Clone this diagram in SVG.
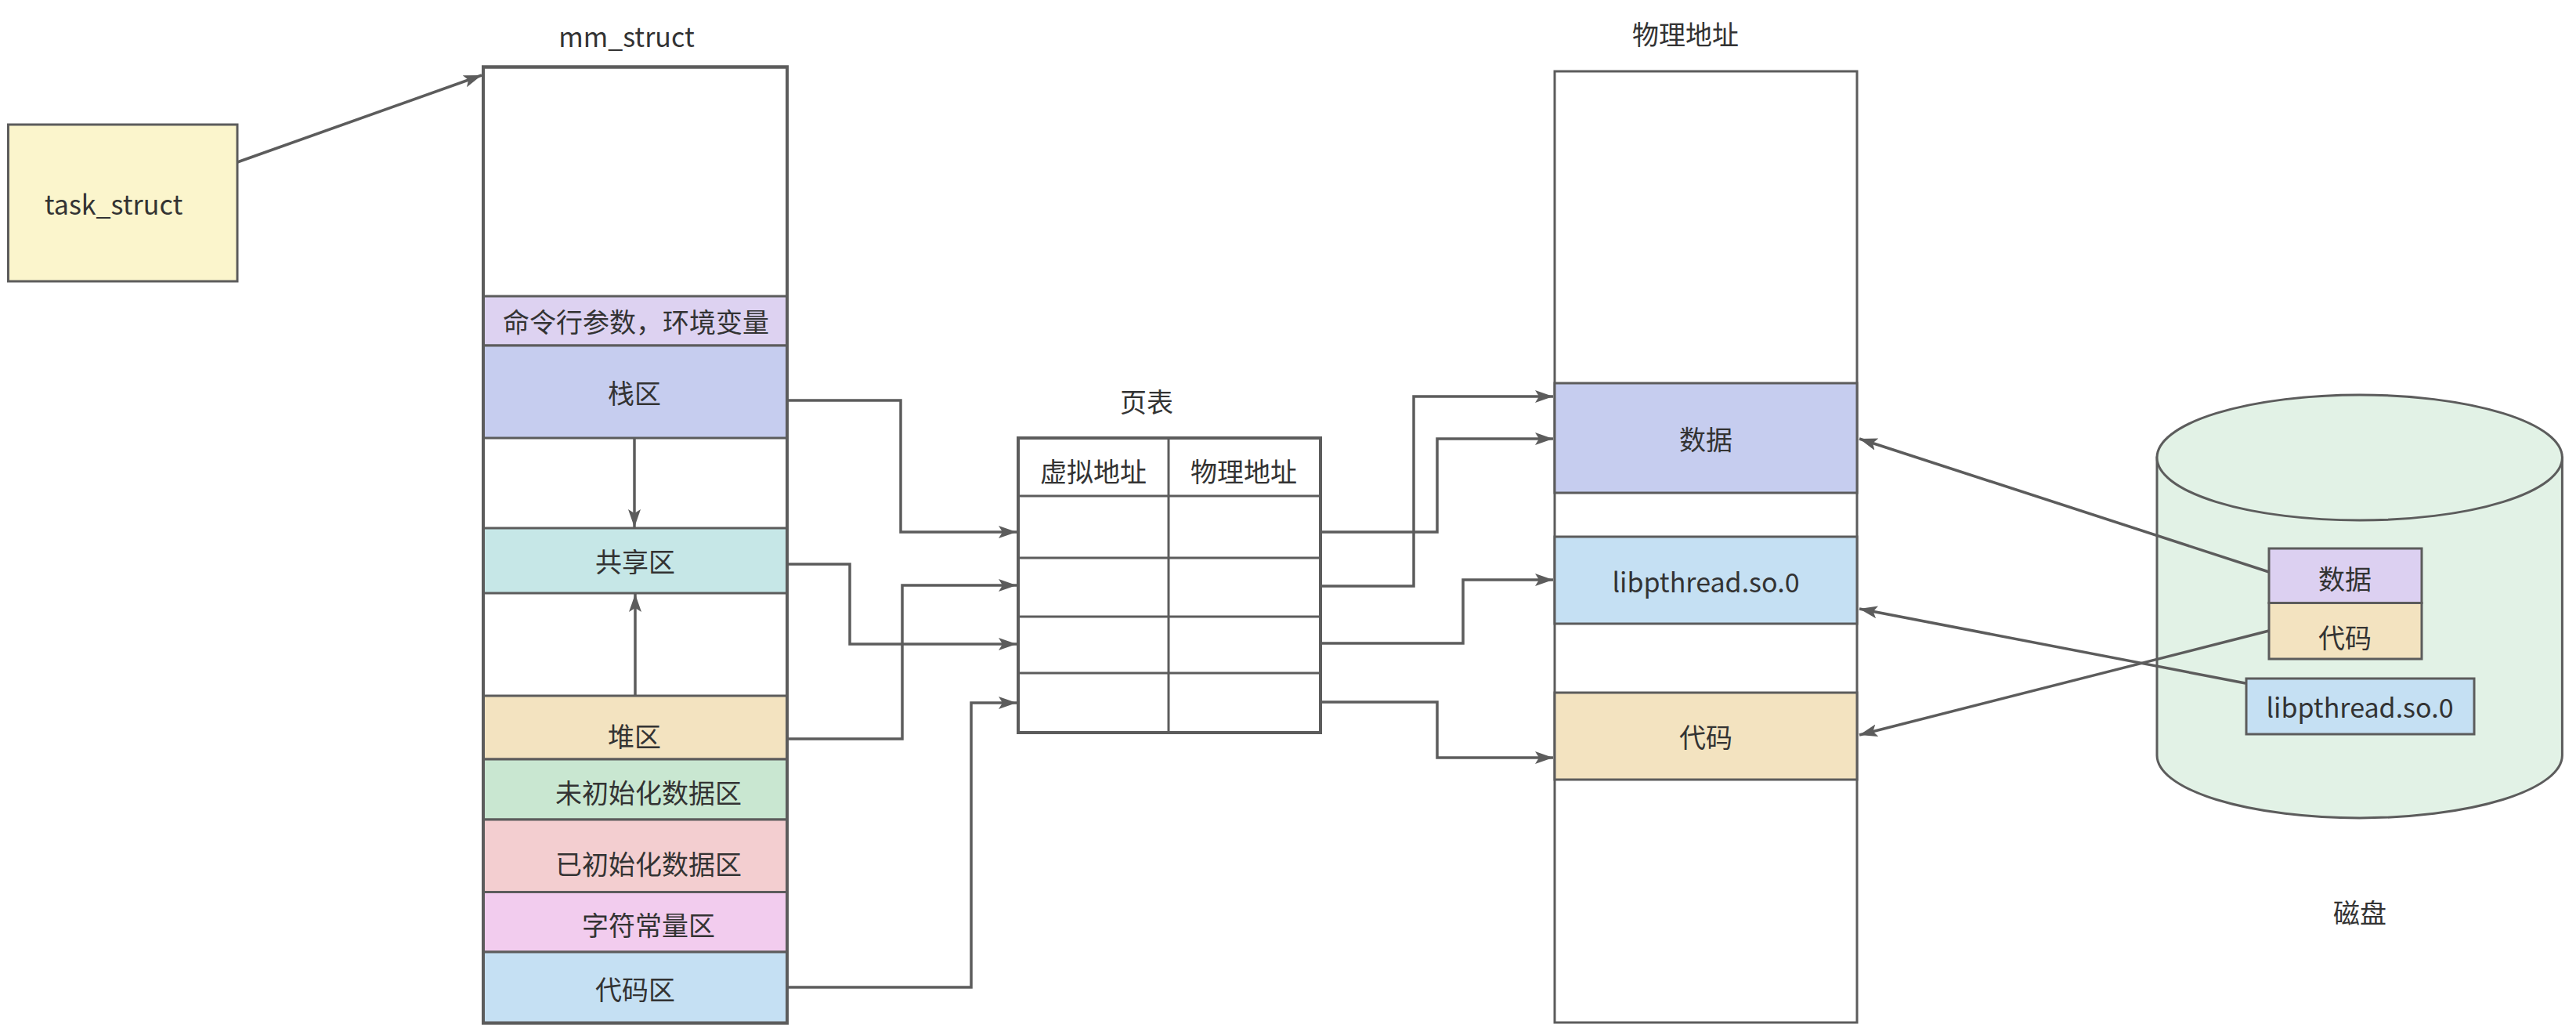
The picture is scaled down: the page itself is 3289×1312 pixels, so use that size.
<svg xmlns="http://www.w3.org/2000/svg" width="3289" height="1312" viewBox="0 0 3289 1312">
<style>
text{font-family:"Noto Sans CJK SC","Noto Sans",sans-serif;font-size:34px;fill:#333;text-anchor:middle;dominant-baseline:central}
.b{stroke:#5c5c5c;stroke-width:3}
.o{fill:none;stroke:#5c5c5c;stroke-width:4}
.c{fill:none;stroke:#5c5c5c;stroke-width:3.5;marker-end:url(#ah)}
</style>
<defs>
<marker id="ah" markerUnits="userSpaceOnUse" markerWidth="26" markerHeight="18" refX="23" refY="8" orient="auto">
<path d="M0,0 L23,8 L0,16 L5,8 Z" fill="#5c5c5c"/>
</marker>
</defs>
<rect width="3289" height="1312" fill="#fff"/>

<g id="task_struct">
<rect x="10.5" y="159" width="292.5" height="200" fill="#FBF5CC" class="b"/>
<text x="145" y="259">task_struct</text>
</g>

<g id="mm_struct">
<text x="800" y="45">mm_struct</text>
<rect x="617" y="85.5" width="388" height="1220" fill="#fff" class="o"/>
<rect x="617" y="378" width="388" height="63" fill="#DDD2F1" class="b"/>
<text x="812" y="409.5">命令行参数，环境变量</text>
<rect x="617" y="441" width="388" height="118" fill="#C6CDEF" class="b"/>
<text x="810" y="500">栈区</text>
<rect x="617" y="674" width="388" height="83" fill="#C6E7E7" class="b"/>
<text x="811" y="715">共享区</text>
<rect x="617" y="888" width="388" height="81" fill="#F3E3C0" class="b"/>
<text x="810" y="938">堆区</text>
<rect x="617" y="969" width="388" height="77" fill="#C9E7D1" class="b"/>
<text x="828" y="1010">未初始化数据区</text>
<rect x="617" y="1046" width="388" height="92.5" fill="#F3CED0" class="b"/>
<text x="828" y="1101">已初始化数据区</text>
<rect x="617" y="1138.5" width="388" height="76.5" fill="#F2CCEE" class="b"/>
<text x="828" y="1179">字符常量区</text>
<rect x="617" y="1215" width="388" height="90.5" fill="#C5E0F3" class="b"/>
<text x="811" y="1261">代码区</text>
<rect x="617" y="85.5" width="388" height="1220" fill="none" class="o"/>
</g>

<g id="page_table">
<text x="1464" y="511">页表</text>
<rect x="1300" y="559" width="386" height="376" fill="#fff" class="o"/>
<line x1="1492" y1="559" x2="1492" y2="937" class="b"/>
<line x1="1300" y1="633" x2="1686" y2="633" class="b"/>
<line x1="1300" y1="712" x2="1686" y2="712" class="b"/>
<line x1="1300" y1="787" x2="1686" y2="787" class="b"/>
<line x1="1300" y1="859" x2="1686" y2="859" class="b"/>
<text x="1396" y="600">虚拟地址</text>
<text x="1588" y="600">物理地址</text>
</g>

<g id="physical">
<text x="2152" y="42">物理地址</text>
<rect x="1985" y="91" width="386" height="1214" fill="#fff" class="b"/>
<rect x="1985" y="489" width="386" height="140" fill="#C6CDEF" class="b"/>
<text x="2178" y="559">数据</text>
<rect x="1985" y="685" width="386" height="111" fill="#C5E0F3" class="b"/>
<text x="2178" y="741">libpthread.so.0</text>
<rect x="1985" y="884" width="386" height="111" fill="#F3E3C0" class="b"/>
<text x="2178" y="939">代码</text>
</g>

<g id="disk">
<path d="M2754,584 L2754,964 A258.7,80 0 0 0 3271.4,964 L3271.4,584 Z" fill="#E2F2E6" class="b"/>
<ellipse cx="3012.7" cy="584" rx="258.7" ry="80" fill="#E2F2E6" class="b"/>
<rect x="2897" y="700" width="195" height="69.5" fill="#DCD0F1" class="b"/>
<text x="2994" y="737">数据</text>
<rect x="2897" y="769.5" width="195" height="71.5" fill="#F3E3C0" class="b"/>
<text x="2994" y="812">代码</text>
<rect x="2868" y="866" width="291" height="71" fill="#C5E0F3" class="b"/>
<text x="3013" y="901">libpthread.so.0</text>
<text x="3013" y="1163">磁盘</text>
</g>

<g id="connectors">
<path d="M303,207 L615,96" class="c"/>
<path d="M810,559 L810,673" class="c"/>
<path d="M811,888 L811,758" class="c"/>
<path d="M1005,511 L1150,511 L1150,679 L1298,679" class="c"/>
<path d="M1005,720 L1085,720 L1085,822 L1298,822" class="c"/>
<path d="M1005,943 L1152,943 L1152,747 L1298,747" class="c"/>
<path d="M1005,1260 L1240,1260 L1240,897 L1298,897" class="c"/>
<path d="M1686,679 L1835,679 L1835,560 L1983,560" class="c"/>
<path d="M1686,748 L1805,748 L1805,506 L1983,506" class="c"/>
<path d="M1686,821 L1868,821 L1868,740 L1983,740" class="c"/>
<path d="M1686,896 L1835,896 L1835,967 L1983,967" class="c"/>
<path d="M2897,730 L2374,560" class="c"/>
<path d="M2867,872 L2374,777" class="c"/>
<path d="M2897,805 L2374,938" class="c"/>
</g>
</svg>
